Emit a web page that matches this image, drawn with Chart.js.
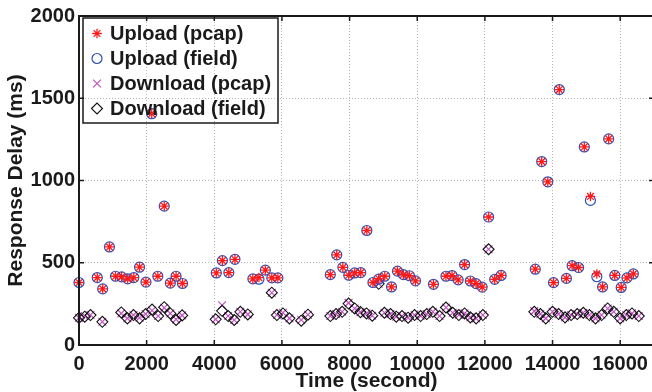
<!DOCTYPE html>
<html><head><meta charset="utf-8">
<script src="https://cdn.jsdelivr.net/npm/chart.js@4.4.0/dist/chart.umd.min.js"></script>
<style>
html,body{margin:0;padding:0;overflow:hidden;background:#fff;width:652px;height:392px}
#wrap{position:relative;width:664px;height:392px}
</style>
</head><body><div id="wrap"><canvas id="c" width="664" height="392"></canvas></div>
<script>
// ---- data ----
const uploadTime = [0, 540, 700, 900, 1080, 1260, 1440, 1620, 1790, 1980, 2150, 2330, 2520, 2700, 2870, 3060,
  4060, 4240, 4430, 4610, 5140, 5320, 5510, 5700, 5880,
  7430, 7620, 7800, 7975, 8150, 8330, 8510, 8690, 8860, 9040, 9240, 9415, 9590, 9770, 9950,
  10480, 10850, 11030, 11210, 11400, 11570, 11740, 11920, 12110, 12290, 12480,
  13490, 13680, 13860, 14030, 14200, 14410, 14580, 14770, 14940, 15120, 15310, 15480, 15660, 15840, 16030, 16200, 16390];
const uploadField = [380, 410, 341, 596, 418, 414, 402, 410, 473, 382, 1406, 418, 844, 376, 418, 374,
  438, 513, 440, 521, 402, 400, 455, 408, 408,
  428, 548, 472, 424, 438, 440, 696, 380, 400, 418, 353, 449, 428, 421, 390,
  369, 418, 422, 396, 489, 389, 373, 352, 778, 399, 423,
  461, 1115, 992, 379, 1553, 405, 482, 471, 1204, 879, 415, 353, 1253, 423, 350, 408, 432];
const uploadPcap = [380, 410, 341, 596, 418, 414, 402, 410, 473, 382, 1406, 418, 844, 376, 418, 374,
  438, 513, 440, 521, 402, 410, 455, 408, 408,
  428, 548, 472, 424, 438, 440, 696, 380, 404, 418, 353, 449, 428, 421, 390,
  369, 418, 422, 396, 489, 389, 373, 352, 778, 399, 423,
  461, 1115, 992, 379, 1553, 405, 482, 471, 1204, 903, 432, 353, 1253, 423, 350, 408, 432];

const downloadTime = [0, 170, 340, 690, 1250, 1430, 1610, 1790, 1970, 2160, 2340, 2520, 2700, 2870, 3050,
  4040, 4230, 4410, 4590, 4770, 4990, 5700, 5850, 6030, 6220, 6570, 6770,
  7430, 7600, 7780, 7970, 8150, 8320, 8500, 8670, 8860, 9030, 9210, 9380, 9550, 9730, 9920, 10100, 10280, 10460, 10660, 10850,
  11050, 11230, 11400, 11570, 11740, 11940, 12110,
  13460, 13640, 13800, 14000, 14180, 14370, 14550, 14730, 14910, 15090, 15270, 15450, 15630, 15810, 16000, 16180, 16350, 16550];
const downloadField = [165, 172, 182, 141, 198, 162, 182, 162, 188, 215, 176, 230, 192, 152, 180,
  156, 208, 176, 152, 202, 186, 318, 182, 192, 162, 148, 184,
  176, 188, 202, 252, 222, 200, 192, 178, 372, 196, 188, 172, 176, 166, 182, 176, 188, 202, 176, 228,
  196, 182, 192, 168, 162, 182, 582,
  202, 188, 162, 202, 188, 168, 182, 188, 196, 182, 162, 182, 222, 202, 162, 182, 192, 176];
const downloadPcap = [165, 176, 182, 141, 192, 162, 182, 166, 188, 210, 176, 226, 192, 156, 180,
  156, 242, 176, 152, 202, 186, 318, 182, 196, 162, 152, 184,
  176, 188, 202, 256, 222, 200, 192, 178, 372, 196, 188, 172, 176, 166, 182, 176, 188, 202, 176, 228,
  196, 182, 192, 168, 162, 182, 582,
  206, 188, 162, 202, 188, 168, 182, 188, 196, 182, 162, 182, 222, 202, 162, 182, 192, 176];

const seriesNames = ['Upload (pcap)', 'Upload (field)', 'Download (pcap)', 'Download (field)'];
const xTicks = [0, 2000, 4000, 6000, 8000, 10000, 12000, 14000, 16000];
const yTicks = [0, 500, 1000, 1500, 2000];

// ---- build ----
const pts = (xs, ys) => xs.map((x, i) => ({x: x, y: ys[i]}));
const FONT = "'Liberation Sans', Arial, Helvetica, sans-serif";
const TXT = '#1a1a1a';

const datasets = [
  {label: seriesNames[0], data: pts(uploadTime, uploadPcap), pointStyle: 'star', pointRadius: 4.8,
   borderColor: '#ff1a1a', backgroundColor: 'rgba(0,0,0,0)', pointBorderWidth: 1.3, order: 1},
  {label: seriesNames[1], data: pts(uploadTime, uploadField), pointStyle: 'circle', pointRadius: 5,
   borderColor: '#2c4fb5', backgroundColor: 'rgba(0,0,0,0)', pointBorderWidth: 1.2, order: 2},
  {label: seriesNames[2], data: pts(downloadTime, downloadPcap), pointStyle: 'crossRot', pointRadius: 5.5,
   borderColor: '#c34fc3', backgroundColor: 'rgba(0,0,0,0)', pointBorderWidth: 1.2, order: 4},
  {label: seriesNames[3], data: pts(downloadTime, downloadField), pointStyle: 'rectRot', pointRadius: 5.5,
   borderColor: '#111', backgroundColor: 'rgba(0,0,0,0)', pointBorderWidth: 1.1, order: 3}
];
datasets.forEach(d => { d.showLine = false; d.clip = false; d.pointHoverRadius = d.pointRadius; });

const framePlugin = {
  id: 'frame',
  afterDraw(chart) {
    const {ctx, chartArea: a, scales} = chart;
    ctx.save();
    ctx.strokeStyle = '#1a1a1a';
    ctx.lineWidth = 1.5;
    // inward ticks on all four sides
    ctx.beginPath();
    xTicks.forEach(v => {
      const p = scales.x.getPixelForValue(v);
      ctx.moveTo(p, a.bottom); ctx.lineTo(p, a.bottom - 5);
      ctx.moveTo(p, a.top); ctx.lineTo(p, a.top + 5);
    });
    yTicks.forEach(v => {
      const p = scales.y.getPixelForValue(v);
      ctx.moveTo(a.left, p); ctx.lineTo(a.left + 5, p);
      ctx.moveTo(a.right, p); ctx.lineTo(a.right - 5, p);
    });
    ctx.stroke();
    ctx.lineWidth = 2;
    ctx.strokeRect(a.left, a.top, a.right - a.left, a.bottom - a.top);

    // legend (transparent box, as in reference)
    const lx = 83, ly = 18, lw = 195, lh = 105;
    ctx.lineWidth = 1.5;
    ctx.strokeRect(lx, ly, lw, lh);
    ctx.font = 'bold 20px ' + FONT;
    ctx.textBaseline = 'middle';
    ctx.textAlign = 'left';
    chart.data.datasets.forEach((d, i) => {
      const cy = 33.5 + i * 25;
      ctx.save();
      ctx.strokeStyle = d.borderColor;
      ctx.fillStyle = 'rgba(0,0,0,0)';
      ctx.lineWidth = d.pointBorderWidth;
      Chart.helpers.drawPoint(ctx, {pointStyle: d.pointStyle, radius: d.pointRadius, borderWidth: d.pointBorderWidth, rotation: 0}, 97, cy);
      ctx.restore();
      ctx.fillStyle = TXT;
      ctx.fillText(d.label, 110, cy + 1);
    });
    ctx.restore();
  }
};

new Chart(document.getElementById('c'), {
  type: 'scatter',
  data: {datasets: datasets},
  options: {
    responsive: false,
    animation: false,
    devicePixelRatio: 1,
    layout: {padding: {top: 15, right: 10, left: 0, bottom: 0}},
    plugins: {legend: {display: false}, tooltip: {enabled: false}},
    scales: {
      x: {
        type: 'linear', position: 'bottom', min: 0, max: 17000,
        afterBuildTicks(s) { s.ticks = xTicks.map(v => ({value: v})); },
        afterFit(s) { s.height = 47; },
        ticks: {padding: 7, maxRotation: 0, autoSkip: false, includeBounds: false, color: TXT,
          callback: v => String(v),
          font: {family: FONT, weight: 'bold', size: 20}},
        grid: {color: '#b5b5b5', lineWidth: 1, drawTicks: false},
        border: {display: false, dash: [1, 2]},
        title: {display: true, text: 'Time (second)', color: TXT, padding: {top: 0, bottom: 0},
          font: {family: FONT, weight: 'bold', size: 21, lineHeight: 1}}
      },
      y: {
        type: 'linear', position: 'left', min: 0, max: 2000,
        afterBuildTicks(s) { s.ticks = yTicks.map(v => ({value: v})); },
        afterFit(s) { s.width = 79; },
        ticks: {padding: 4, color: TXT, callback: v => String(v),
          font: {family: FONT, weight: 'bold', size: 20}},
        grid: {color: '#b5b5b5', lineWidth: 1, drawTicks: false},
        border: {display: false, dash: [1, 2]},
        title: {display: true, text: 'Response Delay (ms)', color: TXT, padding: {top: 4, bottom: 0},
          font: {family: FONT, weight: 'bold', size: 21, lineHeight: 1.2}}
      }
    }
  },
  plugins: [framePlugin]
});
</script>
</body></html>
